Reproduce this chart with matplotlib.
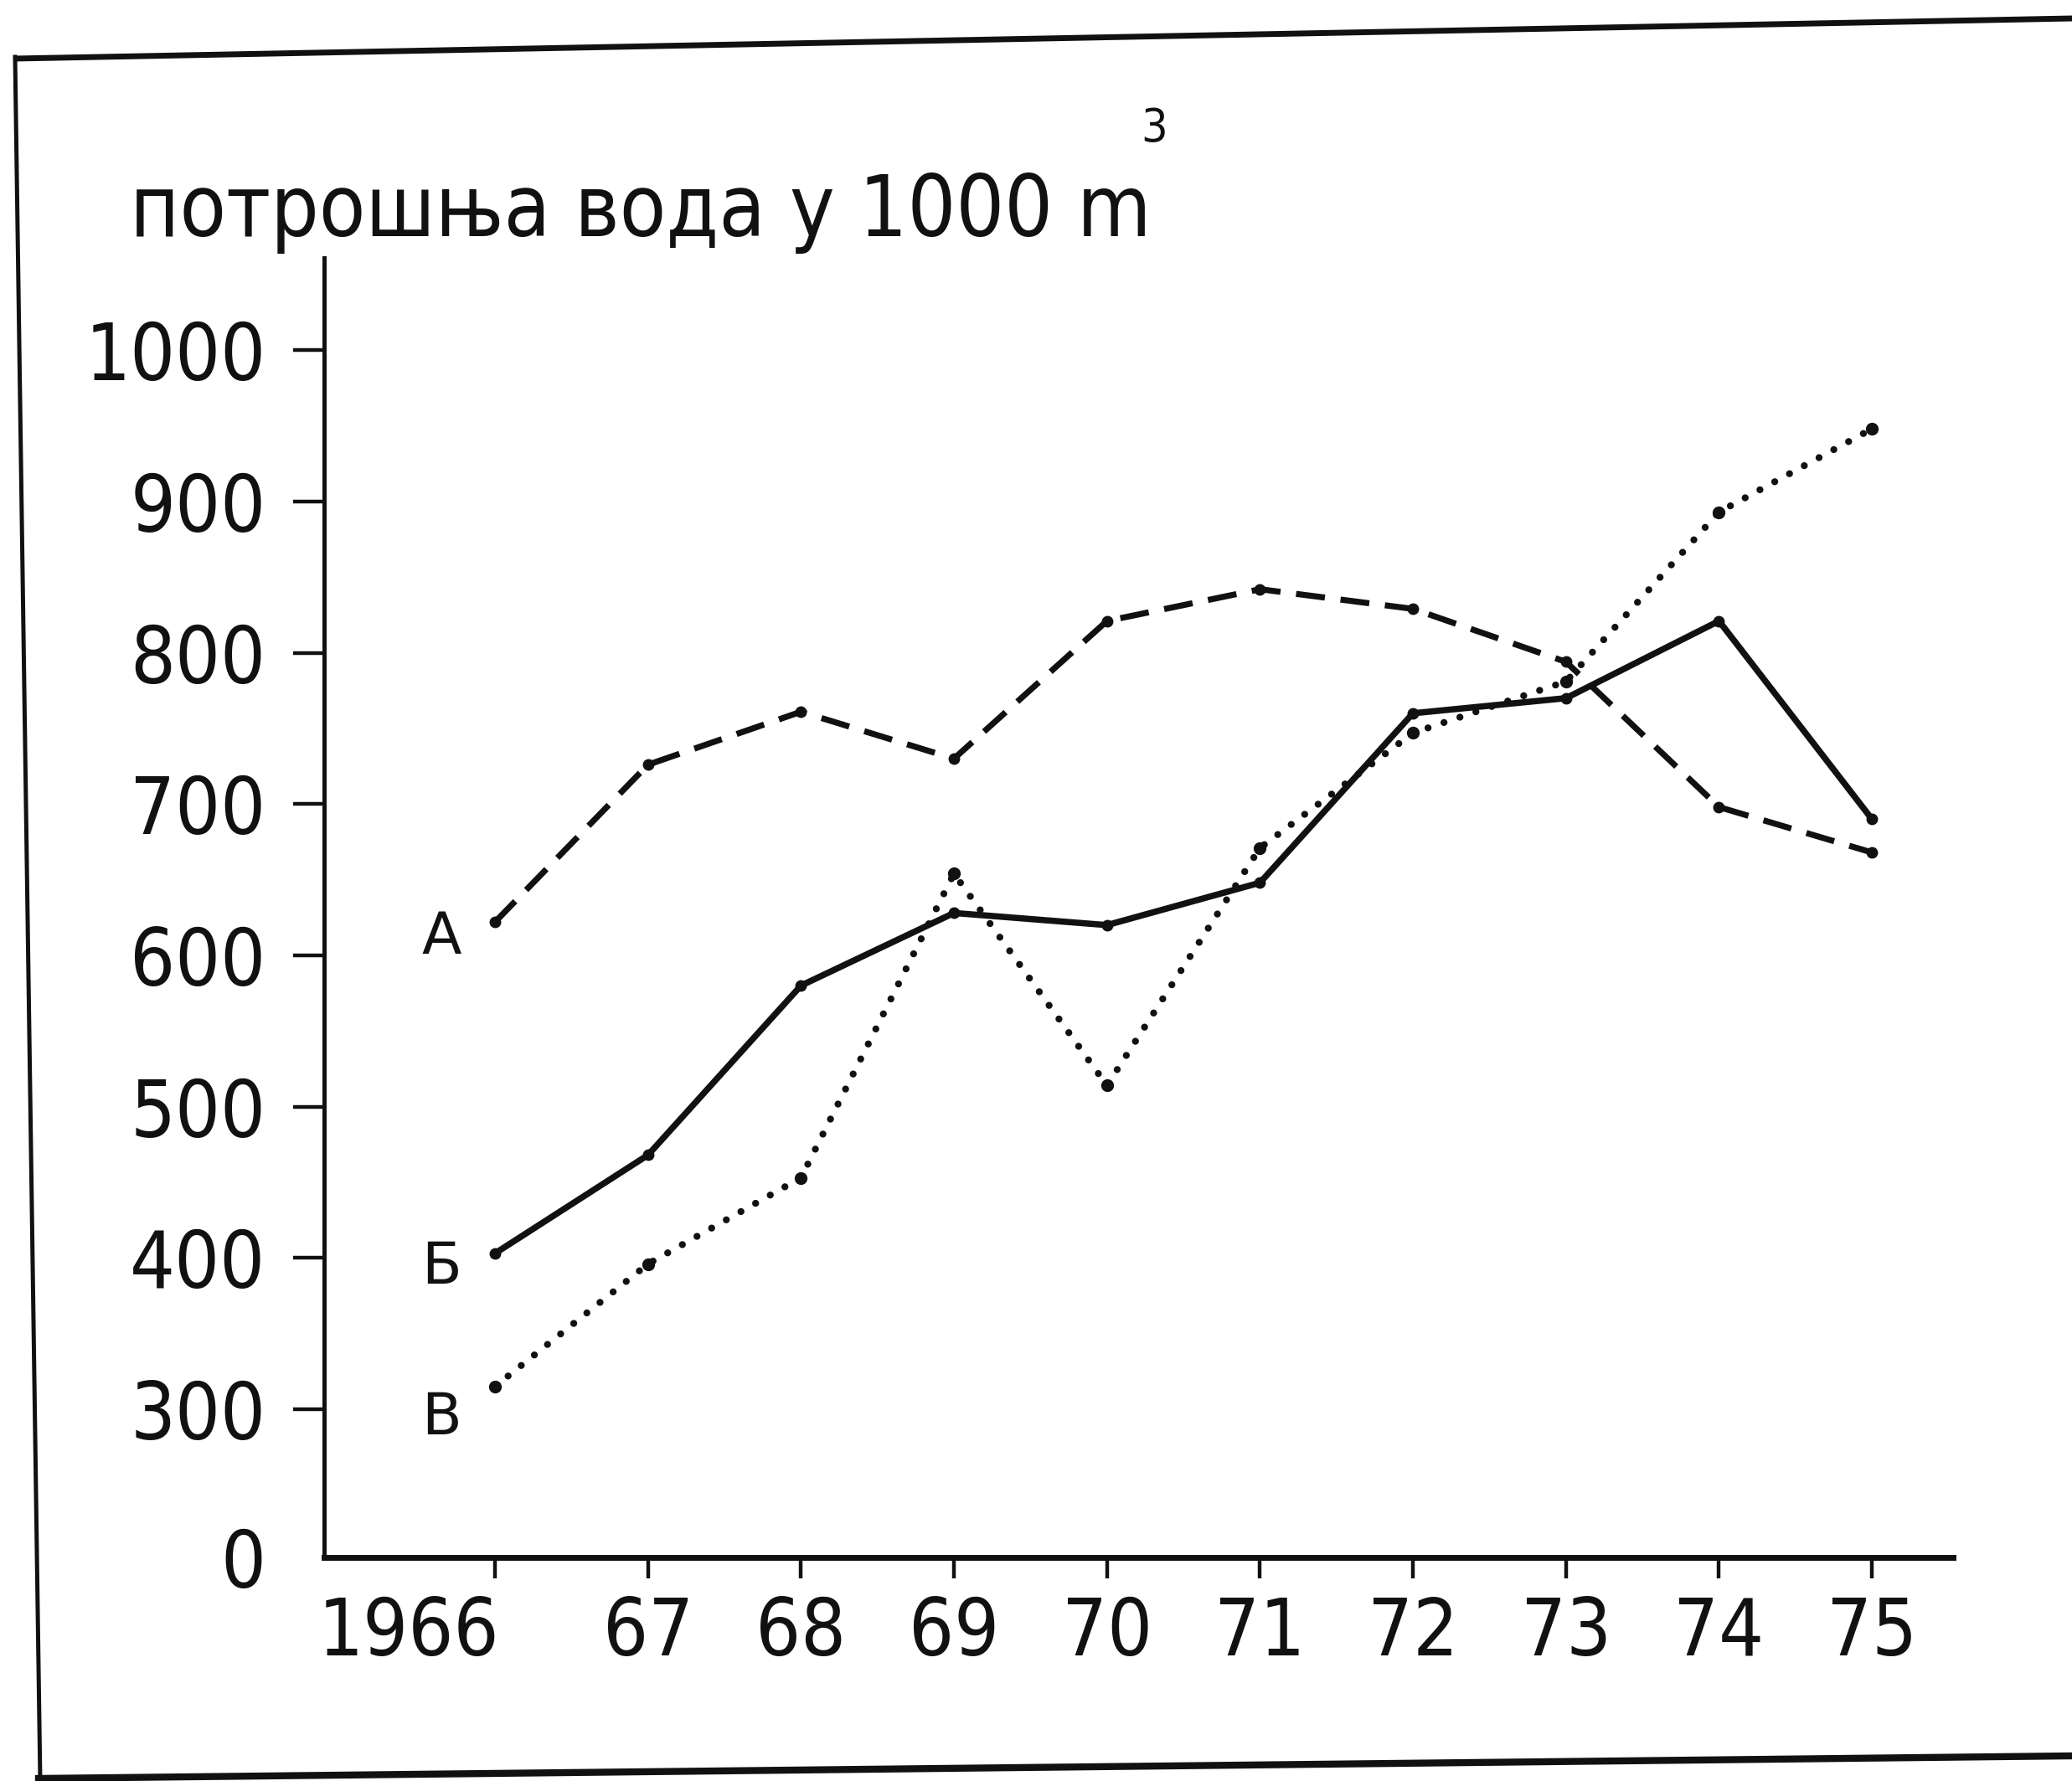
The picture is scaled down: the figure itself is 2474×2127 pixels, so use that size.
import matplotlib
matplotlib.use("Agg")
import matplotlib.pyplot as plt
from matplotlib import font_manager
from matplotlib.lines import Line2D
from matplotlib.transforms import ScaledTranslation

# narrow lettering if one is around, otherwise plain DejaVu
names = {(f.name, f.stretch) for f in font_manager.fontManager.ttflist}
stretch = 'normal'
if any(n == 'Liberation Sans Narrow' for n, s in names):
    face = 'Liberation Sans Narrow'
elif any(n == 'DejaVu Sans' and s in ('condensed', 'semi-condensed') for n, s in names):
    face = 'DejaVu Sans'
    stretch = 'condensed'
else:
    face = 'Liberation Sans'
plt.rcParams['font.family'] = [face, 'DejaVu Sans']
plt.rcParams['font.stretch'] = stretch

# water consumption, thousands of m3
years = [1966, 1967, 1968, 1969, 1970, 1971, 1972, 1973, 1974, 1975]
year_labels = ['1966', '67', '68', '69', '70', '71', '72', '73', '74', '75']
series_a = [622, 726, 761, 730, 821, 842, 829, 794, 698, 668]
series_b = [403, 468, 580, 628, 620, 648, 760, 770, 821, 690]
series_v = [315, 396, 453, 654, 514, 671, 747, 781, 893, 948]
y_ticks = [300, 400, 500, 600, 700, 800, 900, 1000]

INK = '#111111'

fig = plt.figure(figsize=(24.74, 21.27), dpi=100)
fig.patch.set_facecolor('white')
ax = fig.add_axes([0.1564, 0.1255, 0.7862, 0.7297])

ax.plot(years, series_a, color=INK, lw=5.2, dashes=(4.8, 2.6),
        marker='o', ms=9, mfc=INK, mec=INK)
ax.plot(years, series_b, color=INK, lw=5.4, solid_joinstyle='miter',
        marker='o', ms=9, mfc=INK, mec=INK)
ax.plot(years, series_v, color=INK, lw=6, linestyle=(0, (0.01, 2.4)),
        dash_capstyle='round', marker='o', ms=10, mfc=INK, mec=INK)

# series letters at the start of each line
for txt, yv in [('А', 612), ('Б', 394), ('В', 294)]:
    ax.text(1965.65, yv, txt, fontsize=50, family='DejaVu Sans',
            fontstretch='normal', ha='center', va='center', color=INK)

ax.set_xlim(1964.883, 1975.53)
ax.set_ylim(202, 1061)

for s in ['top', 'right']:
    ax.spines[s].set_visible(False)
ax.spines['left'].set_linewidth(3.6)
ax.spines['bottom'].set_linewidth(5)
ax.spines['left'].set_color(INK)
ax.spines['bottom'].set_color(INK)

ax.set_xticks(years)
ax.set_xticklabels(year_labels)
ax.set_yticks([202] + y_ticks)
ax.set_yticklabels(['0'] + [str(v) for v in y_ticks])
ax.tick_params(axis='y', length=27, width=3.2, pad=23, labelsize=68,
               colors=INK)
ax.tick_params(axis='x', length=18, width=3.2, pad=14, labelsize=68,
               colors=INK)
ax.yaxis.get_major_ticks()[0].tick1line.set_visible(False)

# first year label sits left of its tick
lab0 = ax.get_xticklabels()[0]
lab0.set_horizontalalignment('right')
lab0.set_transform(lab0.get_transform() +
                   ScaledTranslation(0.05, 0, fig.dpi_scale_trans))

# hand-lettered heading, sized to run from x=155 to x=1374 px
title = fig.text(155 / 2474, 1 - 282 / 2127, 'потрошња вода у 1000 m',
                 fontsize=80, ha='left', va='baseline', color=INK)
fig.canvas.draw()
w = title.get_window_extent(fig.canvas.get_renderer()).width
title.set_fontsize(80 * 1219 / w)
fig.text(1378 / 2474, 1 - 154 / 2127, '3', fontsize=40,
         ha='center', va='center', color=INK)

# border of the drawing sheet
fig.add_artist(Line2D([17 / 2474, 1.0], [1 - 70 / 2127, 1 - 22 / 2127],
                      transform=fig.transFigure, color=INK, lw=5,
                      solid_capstyle='butt'))
fig.add_artist(Line2D([18 / 2474, 48 / 2474], [1 - 68 / 2127, 0.0],
                      transform=fig.transFigure, color=INK, lw=3.6))
fig.add_artist(Line2D([46 / 2474, 1.0], [1 - 2124 / 2127, 1 - 2097 / 2127],
                      transform=fig.transFigure, color=INK, lw=6))

fig.savefig('out.png', dpi=100, facecolor='white')
